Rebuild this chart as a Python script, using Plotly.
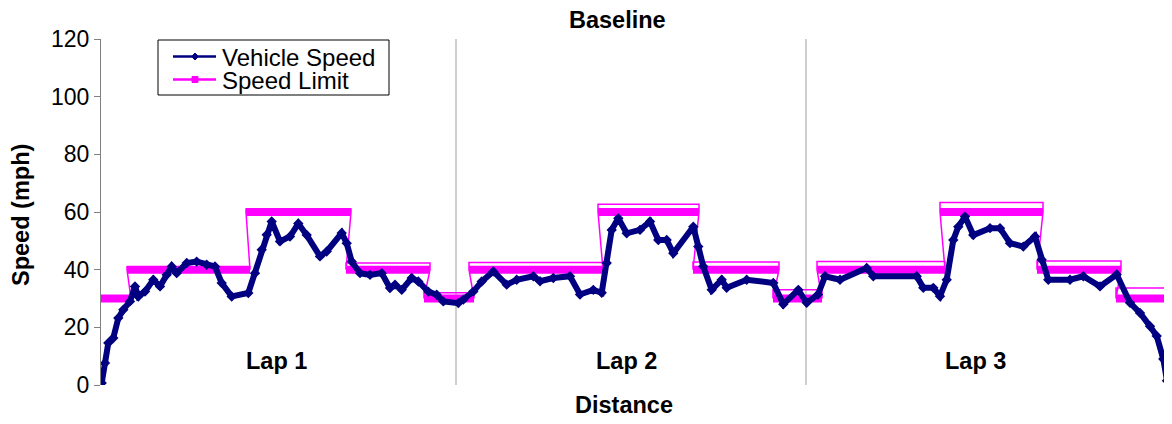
import plotly.graph_objects as go

# ---------------- data ----------------
# Vehicle speed trace (distance in arbitrary units, speed in mph)
speed_distance = [
    0.7, 4, 7.3, 12.3, 17.3, 22.3, 29, 34, 37.3, 44, 52.3, 59, 65.7, 70.7, 75.7, 85.7,
    95.7, 105.7, 114, 120.7, 130.7, 147.3, 154, 160.7, 165.7, 170.7, 179, 189, 197.3,
    205.7, 219, 225.7, 240.7, 245.7, 250.7, 259, 269, 280.7, 289, 294, 300.7, 310.7,
    317.3, 327.3, 335.7, 342.3, 357.3, 362.3,
    372.3, 380.7, 392.3, 405.7, 415.7, 432.3, 439, 452.3, 469, 479, 492.3, 500.7, 505.7,
    510.7, 517.3, 525.7, 539, 549, 557.3, 565.7, 572.3, 592.3, 597.3, 602.3, 610.7, 620.7,
    625.7, 645.7, 672.3, 682.3, 697.3, 705.7, 717,
    724, 739, 765.7, 772.3, 815.7, 822.3, 832.3, 839, 845.7, 852.3, 857.3, 864, 872.3, 889,
    899, 909, 922.3, 934, 940.7, 947.3, 969, 982.3, 999, 1015.7, 1029, 1039, 1049, 1055.7,
    1062.3, 1066,
]
vehicle_speed = [
    0.7, 7.6, 14.6, 16.3, 23.2, 26.1, 29, 34.2, 30.7, 32.4, 36.5, 34.2, 38.2, 41.1, 38.8,
    42.3, 42.8, 41.7, 41.1, 35.4, 30.7, 31.9, 38.8, 46.9, 52.1, 56.7, 49.8, 51.5, 56,
    52, 44.6, 46.3, 52.7, 49.2, 42.8, 38.8, 38.2, 38.8, 33.6, 34.8, 33, 37.1,
    35.9, 32.4, 31.3, 29, 28.4, 29.6,
    32.4, 35.9, 39.4, 34.8, 36.5, 37.7, 36, 37.1, 37.7, 31.4, 33, 32, 42.3,
    53.8, 57.8, 52.6, 53.8, 56.7, 50.3, 50.3, 45.7, 54.9, 48, 41.1, 33, 36.5,
    33.7, 36.5, 35.4, 28, 33, 28.5, 31.4,
    37.7, 36.5, 40.6, 37.7, 37.7, 33.7, 33.7, 30.8, 36.5, 50.3, 54.9, 58.4, 52, 54.4,
    54.4, 49.2, 48, 51.5, 43.4, 36.5, 36.5, 37.7, 34.2, 38.3, 28.5, 25, 20.4, 17,
    9, 1.5,
]

# Speed limit segments: start, end, limit value, upper outline level
limit_start = [0, 26, 145, 245, 323, 368, 497, 592, 672, 716, 839, 936, 1015]
limit_end = [30, 149, 250, 329, 373, 502, 598, 678, 721, 844, 942, 1020, 1069]
limit_value = [30, 40, 60, 40, 30, 40, 60, 40, 30, 40, 60, 40, 30]
limit_outline = [30, 41, 61, 42.3, 32, 42.5, 62.7, 42.7, 33, 42.8, 63.3, 43, 33.6]

lap_labels = ["Lap 1", "Lap 2", "Lap 3"]
lap_centers = [175, 525.7, 874.5]
lap_boundaries = [355, 705]

series_names = ["Vehicle Speed", "Speed Limit"]
y_ticks = [0, 20, 40, 60, 80, 100, 120]

FONT = "Arial, Liberation Sans, sans-serif"
NAVY = "#000080"
MAGENTA = "#FF00FF"

# page geometry (page has an 8px body margin)
PLOT_L, PLOT_T, PLOT_W, PLOT_H = 101.0, 39.0, 1069.0, 346.0


def px(p):
    return (p - PLOT_L) / PLOT_W


def py(p):
    return (PLOT_T + PLOT_H - p) / PLOT_H


# ---------------- build ----------------
band_x, band_y = [], []
for s, e, v in zip(limit_start, limit_end, limit_value):
    band_x += [s, e, None]
    band_y += [v, v, None]

thin_x, thin_y = [], []
for s, e, v, t in zip(limit_start, limit_end, limit_value, limit_outline):
    thin_x += [s, s, e, e]
    thin_y += [v, t, t, v]

fig = go.Figure()

fig.add_trace(go.Scatter(x=thin_x, y=thin_y, mode="lines",
                         line=dict(color=MAGENTA, width=1.5),
                         name=series_names[1], showlegend=False, hoverinfo="skip"))
fig.add_trace(go.Scatter(x=band_x, y=band_y, mode="lines",
                         line=dict(color=MAGENTA, width=8),
                         name=series_names[1], showlegend=False))
fig.add_trace(go.Scatter(x=speed_distance, y=vehicle_speed, mode="lines+markers",
                         line=dict(color=NAVY, width=6),
                         marker=dict(symbol="diamond", size=8, color=NAVY),
                         name=series_names[0], showlegend=False))

for xb in lap_boundaries:
    fig.add_shape(type="line", xref="x", yref="paper", x0=xb, x1=xb, y0=0, y1=1,
                  line=dict(color="#BFBFBF", width=1.5), layer="below")

for lbl, xc in zip(lap_labels, lap_centers):
    fig.add_annotation(x=xc, y=8.2, xref="x", yref="y", text=f"<b>{lbl}</b>",
                       xanchor="center", yanchor="middle",
                       showarrow=False, font=dict(family=FONT, size=23.5, color="black"))

fig.add_annotation(x=px(617), y=py(20), xref="paper", yref="paper", text="<b>Baseline</b>",
                   xanchor="center", yanchor="middle",
                   showarrow=False, font=dict(family=FONT, size=23.5, color="black"))
fig.add_annotation(x=px(624), y=py(405), xref="paper", yref="paper", text="<b>Distance</b>",
                   xanchor="center", yanchor="middle",
                   showarrow=False, font=dict(family=FONT, size=23.5, color="black"))
fig.add_annotation(x=px(21), y=py(215), xref="paper", yref="paper",
                   text="<b>Speed (mph)</b>", textangle=-90, showarrow=False,
                   xanchor="center", yanchor="middle",
                   font=dict(family=FONT, size=23.5, color="black"))

# ---- legend box (drawn by hand to match the compact Excel legend) ----
fig.add_shape(type="rect", xref="paper", yref="paper",
              x0=px(158), x1=px(389), y0=py(95), y1=py(40),
              line=dict(color="black", width=1), fillcolor="white", layer="above")
legend_rows = [56.5, 79.5]
legend_colors = [NAVY, MAGENTA]
for name, row, col in zip(series_names, legend_rows, legend_colors):
    fig.add_shape(type="line", xref="paper", yref="paper",
                  x0=px(173), x1=px(216), y0=py(row), y1=py(row),
                  line=dict(color=col, width=2.5), layer="above")
    fig.add_annotation(x=px(221), y=py(row + 1), xref="paper", yref="paper", text=name,
                       xanchor="left", yanchor="middle", showarrow=False, borderpad=0,
                       font=dict(family=FONT, size=24, color="black"))
# legend marker glyphs
fig.add_shape(type="path", xref="paper", yref="paper", layer="above",
              path=(f"M {px(195)} {py(legend_rows[0]-3.5)} L {px(198.5)} {py(legend_rows[0])} "
                    f"L {px(195)} {py(legend_rows[0]+3.5)} L {px(191.5)} {py(legend_rows[0])} Z"),
              fillcolor=NAVY, line=dict(color=NAVY, width=1))
fig.add_shape(type="rect", xref="paper", yref="paper", layer="above",
              x0=px(192), x1=px(198), y0=py(legend_rows[1] + 3), y1=py(legend_rows[1] - 3),
              fillcolor=MAGENTA, line=dict(color=MAGENTA, width=1))

fig.update_layout(
    width=1164, height=416,
    margin=dict(l=93, r=2, t=31, b=39),
    paper_bgcolor="white", plot_bgcolor="white",
    font=dict(family=FONT, size=23, color="black"),
    showlegend=False,
    xaxis=dict(range=[0, 1069], showticklabels=False, showgrid=False, zeroline=False,
               showline=False, ticks=""),
    yaxis=dict(range=[0, 120], tickvals=y_ticks, showgrid=False, zeroline=False,
               showline=True, linecolor="#808080", linewidth=1,
               ticks="outside", ticklen=6, tickcolor="#808080",
               tickfont=dict(family=FONT, size=23, color="black")),
)

fig.write_html("out.html")
